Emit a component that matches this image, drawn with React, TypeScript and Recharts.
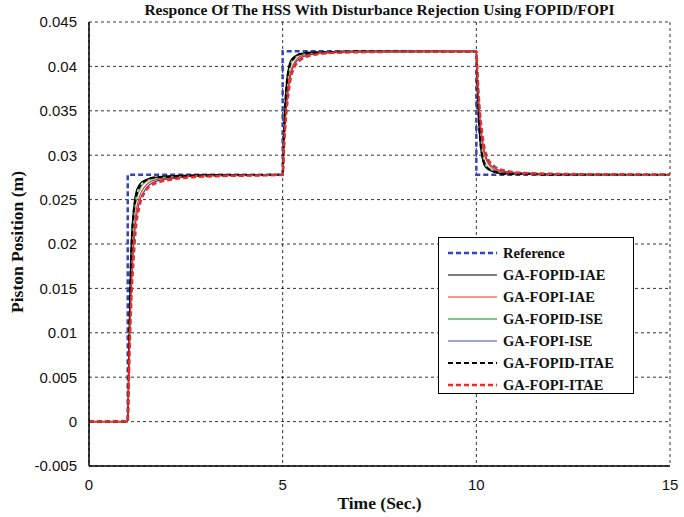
import { CartesianGrid, Line, LineChart, XAxis, YAxis } from 'recharts'

const times = [
  0,
  1, 1.03, 1.06, 1.1, 1.15, 1.2, 1.3, 1.45, 1.7, 2.2, 3,
  5, 5.03, 5.06, 5.1, 5.15, 5.2, 5.3, 5.45, 5.7, 6.2, 7,
  10, 10.03, 10.06, 10.1, 10.15, 10.2, 10.3, 10.45, 10.7, 11.2, 12,
  15,
]

const refTimes = [0, 1, 1, 5, 5, 10, 10, 15]
const refValues = [0, 0, 0.0278, 0.0278, 0.0417, 0.0417, 0.0278, 0.0278]

const fopidIae = [
  0,
  0, 0.0083, 0.0153, 0.0209, 0.0239, 0.0256, 0.0267, 0.0272, 0.0275, 0.0277, 0.0278,
  0.0278, 0.032, 0.0354, 0.0382, 0.0398, 0.0406, 0.0411, 0.0414, 0.0416, 0.0416, 0.0417,
  0.0417, 0.0375, 0.0341, 0.0313, 0.0297, 0.0289, 0.0284, 0.0281, 0.0279, 0.0279, 0.0278,
  0.0278,
]
const fopiIae = [
  0,
  0, 0.0061, 0.0117, 0.0167, 0.0206, 0.0231, 0.0253, 0.0265, 0.0272, 0.0275, 0.0277,
  0.0278, 0.0309, 0.0336, 0.0361, 0.0381, 0.0393, 0.0404, 0.0411, 0.0414, 0.0416, 0.0417,
  0.0417, 0.0386, 0.0359, 0.0334, 0.0314, 0.0302, 0.0291, 0.0284, 0.0281, 0.0279, 0.0278,
  0.0278,
]
const fopidIse = [
  0,
  0, 0.0075, 0.0139, 0.0195, 0.0228, 0.0247, 0.0261, 0.027, 0.0274, 0.0276, 0.0277,
  0.0278, 0.0316, 0.0348, 0.0375, 0.0392, 0.0402, 0.0409, 0.0413, 0.0415, 0.0416, 0.0417,
  0.0417, 0.0379, 0.0347, 0.032, 0.0303, 0.0293, 0.0286, 0.0282, 0.028, 0.0279, 0.0278,
  0.0278,
]
const fopiIse = [
  0,
  0, 0.0056, 0.0106, 0.0156, 0.0195, 0.0222, 0.0247, 0.0261, 0.027, 0.0274, 0.0277,
  0.0278, 0.0306, 0.0331, 0.0356, 0.0375, 0.0389, 0.0402, 0.0409, 0.0413, 0.0415, 0.0416,
  0.0417, 0.0389, 0.0364, 0.0339, 0.032, 0.0306, 0.0293, 0.0286, 0.0282, 0.028, 0.0279,
  0.0278,
]
const fopidItae = [
  0,
  0, 0.0078, 0.0145, 0.02, 0.0234, 0.025, 0.0264, 0.0271, 0.0275, 0.0276, 0.0277,
  0.0278, 0.0317, 0.035, 0.0378, 0.0395, 0.0403, 0.041, 0.0414, 0.0415, 0.0416, 0.0417,
  0.0417, 0.0378, 0.0345, 0.0317, 0.03, 0.0292, 0.0285, 0.0282, 0.0279, 0.0279, 0.0278,
  0.0278,
]
const fopiItae = [
  0,
  0, 0.005, 0.0097, 0.0145, 0.0183, 0.0214, 0.0242, 0.0259, 0.0268, 0.0273, 0.0276,
  0.0278, 0.0303, 0.0327, 0.035, 0.037, 0.0385, 0.0399, 0.0407, 0.0412, 0.0415, 0.0416,
  0.0417, 0.0392, 0.0368, 0.0345, 0.0325, 0.031, 0.0296, 0.0288, 0.0283, 0.028, 0.0279,
  0.0278,
]

const xTicks = [0, 5, 10, 15]
const yTicks = [-0.005, 0, 0.005, 0.01, 0.015, 0.02, 0.025, 0.03, 0.035, 0.04, 0.045]

const refData = refTimes.map((t, i) => ({ t, v: refValues[i] }))
const responseData = times.map((t, i) => ({
  t,
  a: fopidIae[i],
  b: fopiIae[i],
  c: fopidIse[i],
  d: fopiIse[i],
  e: fopidItae[i],
  f: fopiItae[i],
}))

const legendItems = [
  { name: 'Reference', color: '#3344c0', width: 2.5, dash: '5 3' },
  { name: 'GA-FOPID-IAE', color: '#000000', width: 1.2, dash: undefined },
  { name: 'GA-FOPI-IAE', color: '#ee3333', width: 1.2, dash: undefined },
  { name: 'GA-FOPID-ISE', color: '#77cc77', width: 2, dash: undefined },
  { name: 'GA-FOPI-ISE', color: '#3a4aa8', width: 1.2, dash: undefined },
  { name: 'GA-FOPID-ITAE', color: '#000000', width: 2.2, dash: '5 3' },
  { name: 'GA-FOPI-ITAE', color: '#ee2a2a', width: 2.5, dash: '5 3' },
]

const serif = '"Liberation Serif", "Times New Roman", serif'
const sans = '"Liberation Sans", Arial, sans-serif'

function fmtY(v: number) {
  if (v === 0) return '0'
  return String(Number(v.toFixed(3)))
}

function LegendBox() {
  return (
    <div
      style={{
        position: 'absolute',
        left: 438,
        top: 237,
        width: 196,
        height: 157,
        border: '1px solid #000',
        background: '#fff',
        boxSizing: 'border-box',
        paddingTop: 4,
      }}
    >
      {legendItems.map((item) => (
        <div key={item.name} style={{ display: 'flex', alignItems: 'center', height: 22, marginLeft: 9 }}>
          <svg width={49} height={8} style={{ marginRight: 6 }}>
            <line
              x1={0}
              x2={49}
              y1={4}
              y2={4}
              stroke={item.color}
              strokeWidth={item.width}
              strokeDasharray={item.dash}
            />
          </svg>
          <span style={{ fontFamily: serif, fontWeight: 'bold', fontSize: 14.5, color: '#111' }}>{item.name}</span>
        </div>
      ))}
    </div>
  )
}

export default function App() {
  return (
    <div style={{ position: 'absolute', left: 0, top: 0, width: 684, height: 517, background: '#fff' }}>
      <LineChart
        width={684}
        height={517}
        margin={{ top: 22, right: 14, left: 0, bottom: 0 }}
        style={{ position: 'absolute', left: 0, top: 0 }}
      >
        <CartesianGrid xAxisId="main" yAxisId="main" stroke="#000" strokeDasharray="3 3" strokeWidth={0.8} />
        <XAxis
          xAxisId="main"
          dataKey="t"
          type="number"
          domain={[0, 15]}
          ticks={xTicks}
          allowDuplicatedCategory={false}
          height={51}
          axisLine={{ stroke: '#000', strokeWidth: 1.5 }}
          tickLine={false}
          tick={{ fill: '#111', fontFamily: sans, fontSize: 15 }}
          tickMargin={7}
        />
        <XAxis
          xAxisId="top"
          orientation="top"
          type="number"
          domain={[0, 15]}
          height={0}
          tick={false}
          tickLine={false}
          axisLine={{ stroke: '#000', strokeWidth: 1.5 }}
        />
        <YAxis
          yAxisId="main"
          type="number"
          domain={[-0.005, 0.045]}
          ticks={yTicks}
          width={89}
          tickFormatter={fmtY}
          axisLine={{ stroke: '#000', strokeWidth: 1.5 }}
          tickLine={false}
          tick={{ fill: '#111', fontFamily: sans, fontSize: 15 }}
          tickMargin={6}
        />
        <YAxis
          yAxisId="right"
          orientation="right"
          type="number"
          domain={[0, 1]}
          width={0}
          tick={false}
          tickLine={false}
          axisLine={{ stroke: '#000', strokeWidth: 1.5 }}
        />
        <Line
          xAxisId="main"
          yAxisId="main"
          data={refData}
          dataKey="v"
          type="linear"
          stroke="#3344c0"
          strokeWidth={2.5}
          strokeDasharray="5 3"
          dot={false}
          isAnimationActive={false}
        />
        <Line xAxisId="main" yAxisId="main" data={responseData} dataKey="d" type="monotone" stroke="#3a4aa8" strokeWidth={1.2} dot={false} isAnimationActive={false} />
        <Line xAxisId="main" yAxisId="main" data={responseData} dataKey="c" type="monotone" stroke="#77cc77" strokeWidth={2} dot={false} isAnimationActive={false} />
        <Line xAxisId="main" yAxisId="main" data={responseData} dataKey="a" type="monotone" stroke="#000" strokeWidth={1.2} dot={false} isAnimationActive={false} />
        <Line xAxisId="main" yAxisId="main" data={responseData} dataKey="b" type="monotone" stroke="#ee3333" strokeWidth={1.2} dot={false} isAnimationActive={false} />
        <Line xAxisId="main" yAxisId="main" data={responseData} dataKey="e" type="monotone" stroke="#000" strokeWidth={2.2} strokeDasharray="5 3" dot={false} isAnimationActive={false} />
        <Line xAxisId="main" yAxisId="main" data={responseData} dataKey="f" type="monotone" stroke="#ee2a2a" strokeWidth={2.5} strokeDasharray="5 3" dot={false} isAnimationActive={false} />
      </LineChart>
      <div
        style={{
          position: 'absolute',
          left: 89,
          width: 581,
          top: 1,
          textAlign: 'center',
          fontFamily: serif,
          fontWeight: 'bold',
          fontSize: 15.5,
          color: '#111',
        }}
      >
        Responce Of The HSS With Disturbance Rejection Using FOPID/FOPI
      </div>
      <div
        style={{
          position: 'absolute',
          left: 89,
          width: 581,
          top: 493,
          textAlign: 'center',
          fontFamily: serif,
          fontWeight: 'bold',
          fontSize: 17.5,
          color: '#111',
        }}
      >
        Time (Sec.)
      </div>
      <div
        style={{
          position: 'absolute',
          left: 17,
          top: 242,
          transform: 'translate(-50%, -50%) rotate(-90deg)',
          whiteSpace: 'nowrap',
          fontFamily: serif,
          fontWeight: 'bold',
          fontSize: 17.5,
          color: '#111',
        }}
      >
        Piston Position (m)
      </div>
      <LegendBox />
    </div>
  )
}
